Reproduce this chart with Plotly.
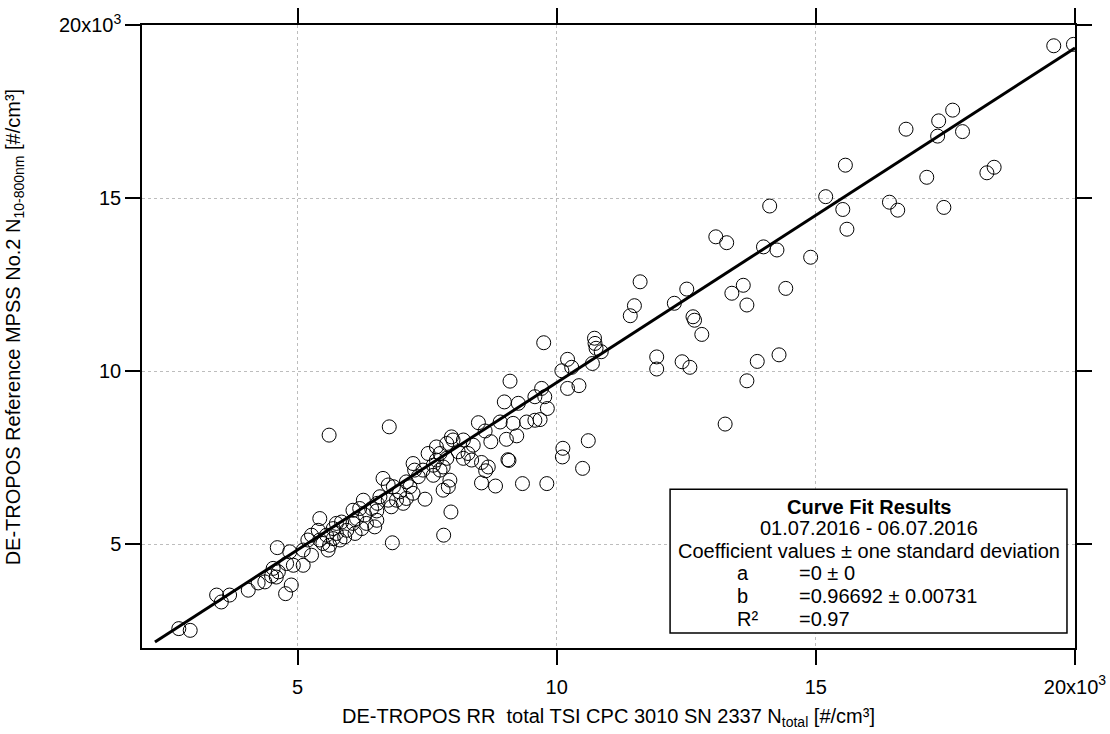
import plotly.graph_objects as go

# Particle number concentrations [#/cm³]: CPC total (x) vs. MPSS 10-800 nm (y)
x_cpc = [19590, 19970, 17640, 17370, 17350, 17830, 16740, 15570, 17140, 18300,
         18440, 16420, 16580, 17470, 15520, 15600, 15190, 14900, 14110, 13070,
         13280, 13990, 14250, 11610, 12510, 12270, 11500, 11420, 13380, 13600,
         13670, 14420, 12630, 12660, 12800, 9750, 10730, 10740, 10760, 10860,
         10690, 10210, 10290, 10100, 11930, 11930, 12420, 12570, 13870, 14290,
         13670, 10210, 10430, 9710, 9770, 9820, 9680, 13250, 10610, 10120,
         9100, 9580, 8990, 9260, 8910, 9420, 9580, 9160, 8490, 8620,
         8730, 9030, 9230, 10110, 10500, 9060, 9080, 8360, 8550, 8680,
         8630, 8550, 8820, 9340, 9810, 7970, 8000, 8200, 7880, 8390,
         7680, 7520, 7750, 8100, 8200, 8290, 7880, 7680, 7620, 7810,
         7750, 7620, 7230, 7260, 7420, 7330, 7940, 7910, 7810, 7460,
         7960, 7820, 6830, 5610, 6770, 6650, 6750, 6850, 6970, 7100,
         7170, 7230, 7100, 7040, 6910, 6810, 6750, 6590, 6540, 6530,
         6430, 6270, 6200, 6300, 6140, 6530, 6490, 6330, 6240, 6070,
         5950, 6110, 5850, 5750, 5690, 5430, 5400, 5560, 5690, 5270,
         5200, 5430, 5620, 6070, 5750, 5490, 5820, 5910, 5590, 5270,
         5110, 4610, 4850, 4790, 4920, 5110, 4530, 4630, 4500, 4590,
         4370, 4880, 4770, 4240, 4050, 3690, 3440, 3530, 2710, 2930]

y_mpss = [19400, 19440, 17540, 17230, 16790, 16920, 16990, 15950, 15600, 15730,
          15890, 14880, 14650, 14730, 14670, 14100, 15040, 13290, 14770, 13880,
          13710, 13590, 13500, 12580, 12370, 11960, 11890, 11600, 12250, 12480,
          11910, 12390, 11570, 11470, 11060, 10820, 10950, 10800, 10660, 10560,
          10220, 10340, 10110, 10010, 10410, 10060, 10270, 10110, 10280, 10470,
          9720, 9500, 9580, 9500, 9260, 8920, 8600, 8470, 7990, 7770,
          9710, 9260, 9110, 9070, 8530, 8530, 8580, 8490, 8510, 8270,
          7960, 8030, 8130, 7520, 7190, 7440, 7420, 7430, 7360, 7230,
          7120, 6770, 6680, 6750, 6750, 8100, 8010, 8010, 7910, 7860,
          7810, 7620, 7620, 7670, 7480, 7620, 7480, 7430, 7280, 7230,
          7140, 6990, 7330, 7140, 7140, 6950, 6850, 6660, 6560, 6300,
          5930, 5260, 5040, 8150, 8390, 6900, 6710, 6660, 6510, 6800,
          6660, 6470, 6320, 6180, 6270, 6080, 6270, 6370, 6180, 5960,
          6030, 6270, 6030, 5840, 5740, 5690, 5500, 5600, 5450, 5600,
          5400, 5310, 5640, 5600, 5450, 5740, 5400, 5260, 5160, 5260,
          5120, 5120, 4970, 5980, 5310, 5020, 5120, 5210, 4830, 4680,
          4830, 4900, 4780, 4440, 4390, 4390, 4300, 4200, 4080, 4050,
          3910, 3820, 3570, 3880, 3670, 3530, 3530, 3330, 2560, 2510]

# Linear fit through the origin: y = a + b*x
fit_a = 0
fit_b = 0.96692
fit_b_sd = 0.00731
fit_r2 = 0.97
fit_x = [2250, 20000]
fit_y = [fit_a + fit_b * v for v in fit_x]

tick_vals = [5000, 10000, 15000, 20000]
tick_text = ["5", "10", "15", "20x10<sup>3</sup>"]

FONT = "Arial, 'Liberation Sans', sans-serif"
FS = 20

fig = go.Figure()
fig.add_trace(go.Scatter(
    x=x_cpc, y=y_mpss, mode="markers",
    marker=dict(symbol="circle-open", size=14, color="black",
                line=dict(width=1, color="black")),
    showlegend=False, hoverinfo="x+y"))
fig.add_trace(go.Scatter(
    x=fit_x, y=fit_y, mode="lines",
    line=dict(color="black", width=3),
    showlegend=False))

axis_style = dict(
    range=[2000, 20000], tickvals=tick_vals, ticktext=tick_text,
    ticks="outside", ticklen=15, tickwidth=1.5, tickcolor="black",
    showline=True, linecolor="black", linewidth=1.5, mirror="ticks",
    showgrid=True, gridcolor="#bdbdbd", gridwidth=1, griddash="dot",
    zeroline=False, automargin=False,
    tickfont=dict(family=FONT, size=FS, color="black"),
)
fig.update_xaxes(ticklabelstandoff=5, **axis_style)
fig.update_yaxes(**axis_style)

annotations = [
    dict(text="DE-TROPOS RR  total TSI CPC 3010 SN 2337 N<sub>total</sub> [#/cm³]",
         xref="paper", yref="paper", x=0.5, y=-0.111, xanchor="center", yanchor="middle",
         showarrow=False, font=dict(family=FONT, size=FS, color="black")),
    dict(text="DE-TROPOS Reference MPSS No.2 N<sub>10-800nm</sub> [#/cm³]",
         xref="paper", yref="paper", x=-0.137, y=0.515, xanchor="center", yanchor="middle",
         textangle=-90, showarrow=False, font=dict(family=FONT, size=FS, color="black")),
]

# Fit results box
box_x0, box_x1 = 0.566, 0.9914
box_y0, box_y1 = 0.024, 0.255
fig.add_shape(type="rect", xref="paper", yref="paper",
              x0=box_x0, x1=box_x1, y0=box_y0, y1=box_y1,
              line=dict(color="black", width=1.5), fillcolor="white", layer="above")

box_cx = (box_x0 + box_x1) / 2
line_y = [0.227, 0.193, 0.156, 0.120, 0.083, 0.046]
centre_lines = ["<b>Curve Fit Results</b>", "01.07.2016 - 06.07.2016",
                "Coefficient values ± one standard deviation"]
for txt, yy in zip(centre_lines, line_y[:3]):
    annotations.append(dict(text=txt, xref="paper", yref="paper", x=box_cx, y=yy,
                            xanchor="center", yanchor="middle", showarrow=False,
                            font=dict(family=FONT, size=FS, color="black")))

coef_names = ["a", "b", "R²"]
coef_vals = [f"={fit_a} ± {fit_a}", f"={fit_b:.5f} ± {fit_b_sd:.5f}", f"={fit_r2}"]
name_x = (735 - 142) / 933
val_x = (797 - 142) / 933
for name, val, yy in zip(coef_names, coef_vals, line_y[3:]):
    annotations.append(dict(text=name, xref="paper", yref="paper", x=name_x, y=yy,
                            xanchor="left", yanchor="middle", showarrow=False,
                            font=dict(family=FONT, size=FS, color="black")))
    annotations.append(dict(text=val, xref="paper", yref="paper", x=val_x, y=yy,
                            xanchor="left", yanchor="middle", showarrow=False,
                            font=dict(family=FONT, size=FS, color="black")))

fig.update_layout(
    width=1110, height=734,
    margin=dict(l=142, r=35, t=25, b=86),
    paper_bgcolor="white", plot_bgcolor="white",
    font=dict(family=FONT, size=FS, color="black"),
    annotations=annotations,
    showlegend=False,
)

fig.write_html("out.html")
